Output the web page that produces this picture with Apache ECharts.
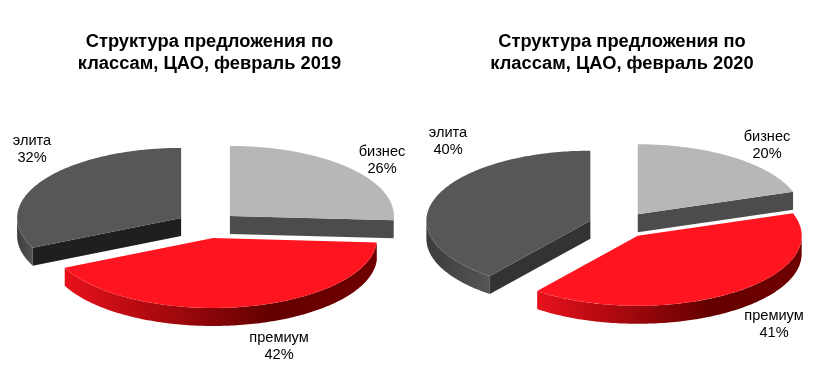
<!DOCTYPE html>
<html>
<head>
<meta charset="utf-8">
<style>
  html, body { margin: 0; padding: 0; background: #fff; }
  #chart { width: 839px; height: 392px; }
</style>
<script src="https://cdn.jsdelivr.net/npm/echarts@6/dist/echarts.min.js"></script>
</head>
<body>
<div id="chart"></div>
<script>
// данные
const categories = ['бизнес', 'премиум', 'элита']
const values2019 = [26, 42, 32]
const values2020 = [19.8, 40.7, 39.5]
const titles = ['Структура предложения по\nклассам, ЦАО, февраль 2019', 'Структура предложения по\nклассам, ЦАО, февраль 2020']

// геометрия и цвета
const RX = 164
const RY = 70
const DEPTH = 18
const EXPLODE = 31
const CY = 225
const centersX = [207.3, 619.7]
const titleX = [204.5, 617]
const topColors = ['#b7b7b7', '#ff151f', '#575757']
const cutColors = [['#4c4c4c', '', '#1f1f1f'], ['#4c4c4c', '', '#333333']]
const labelPos = [
  [[382, 160], [279, 346], [32, 149]],
  [[767, 145], [774, 324], [448, 141.5]]
]

function wallFill(i) {
  if (i === 1) {
    return new echarts.graphic.LinearGradient(0, 0, 1, 0, [
      { offset: 0, color: '#e8111b' },
      { offset: 0.65, color: '#640000' },
      { offset: 1, color: '#700000' }
    ])
  }
  return new echarts.graphic.LinearGradient(0, 0, 1, 0, [
    { offset: 0, color: '#3c3c3c' },
    { offset: 1, color: '#555555' }
  ])
}

function makeRenderItem(values, chartIdx) {
  const sum = values.reduce((a, b) => a + b, 0)
  const rad = d => d * Math.PI / 180

  return function(params, api) {
    const i = params.dataIndex
    let start = 0
    for (let k = 0; k < i; k++) start += values[k] / sum * 360
    const end = start + api.value(0) / sum * 360
    const mid = (start + end) / 2

    // центр сектора с учётом выноса
    const ox = centersX[chartIdx] + EXPLODE * Math.sin(rad(mid))
    const oy = CY - EXPLODE * RY / RX * Math.cos(rad(mid))
    const at = (deg, dz) => [ox + RX * Math.sin(rad(deg)), oy - RY * Math.cos(rad(deg)) + (dz || 0)]

    const children = []

    // внешняя стенка видна только на передней половине
    const from = Math.max(start, 90)
    const to = Math.min(end, 270)
    if (to > from) {
      const wall = []
      for (let d = from; d < to; d += 1) wall.push(at(d))
      wall.push(at(to))
      const back = []
      for (let d = from; d < to; d += 1) back.push(at(d, DEPTH))
      back.push(at(to, DEPTH))
      children.push({
        type: 'polygon',
        shape: { points: wall.concat(back.reverse()) },
        style: { fill: wallFill(i) }
      })
    }

    // срезы
    const cuts = []
    if (Math.sin(rad(end)) > 0) cuts.push(end)
    if (Math.sin(rad(start)) < 0) cuts.push(start)
    cuts.forEach(deg => {
      children.push({
        type: 'polygon',
        shape: { points: [[ox, oy], at(deg), at(deg, DEPTH), [ox, oy + DEPTH]] },
        style: { fill: cutColors[chartIdx][i] }
      })
    })

    // верхняя грань
    const top = [[ox, oy]]
    for (let d = start; d < end; d += 1) top.push(at(d))
    top.push(at(end))
    children.push({
      type: 'polygon',
      shape: { points: top },
      style: { fill: topColors[i] }
    })

    children.push({
      type: 'text',
      style: {
        x: labelPos[chartIdx][i][0],
        y: labelPos[chartIdx][i][1],
        text: categories[i] + '\n' + Math.round(api.value(0)) + '%',
        fill: '#000',
        font: '14.6px "Liberation Sans", Arial, sans-serif',
        lineHeight: 17,
        align: 'center',
        verticalAlign: 'middle'
      }
    })

    return { type: 'group', children: children }
  }
}

const chart = echarts.init(document.getElementById('chart'), null, { renderer: 'canvas' })

chart.setOption({
  animation: false,
  backgroundColor: '#fff',
  title: titles.map((t, i) => ({
    text: t,
    left: titleX[i],
    top: 26,
    textAlign: 'center',
    textStyle: {
      fontFamily: '"Liberation Sans", Arial, sans-serif',
      fontSize: 18.3,
      fontWeight: 'bold',
      lineHeight: 22,
      color: '#000'
    }
  })),
  series: [values2019, values2020].map((vals, idx) => ({
    type: 'custom',
    coordinateSystem: 'none',
    silent: true,
    renderItem: makeRenderItem(vals, idx),
    data: vals.map(v => [v])
  }))
})
</script>
</body>
</html>
